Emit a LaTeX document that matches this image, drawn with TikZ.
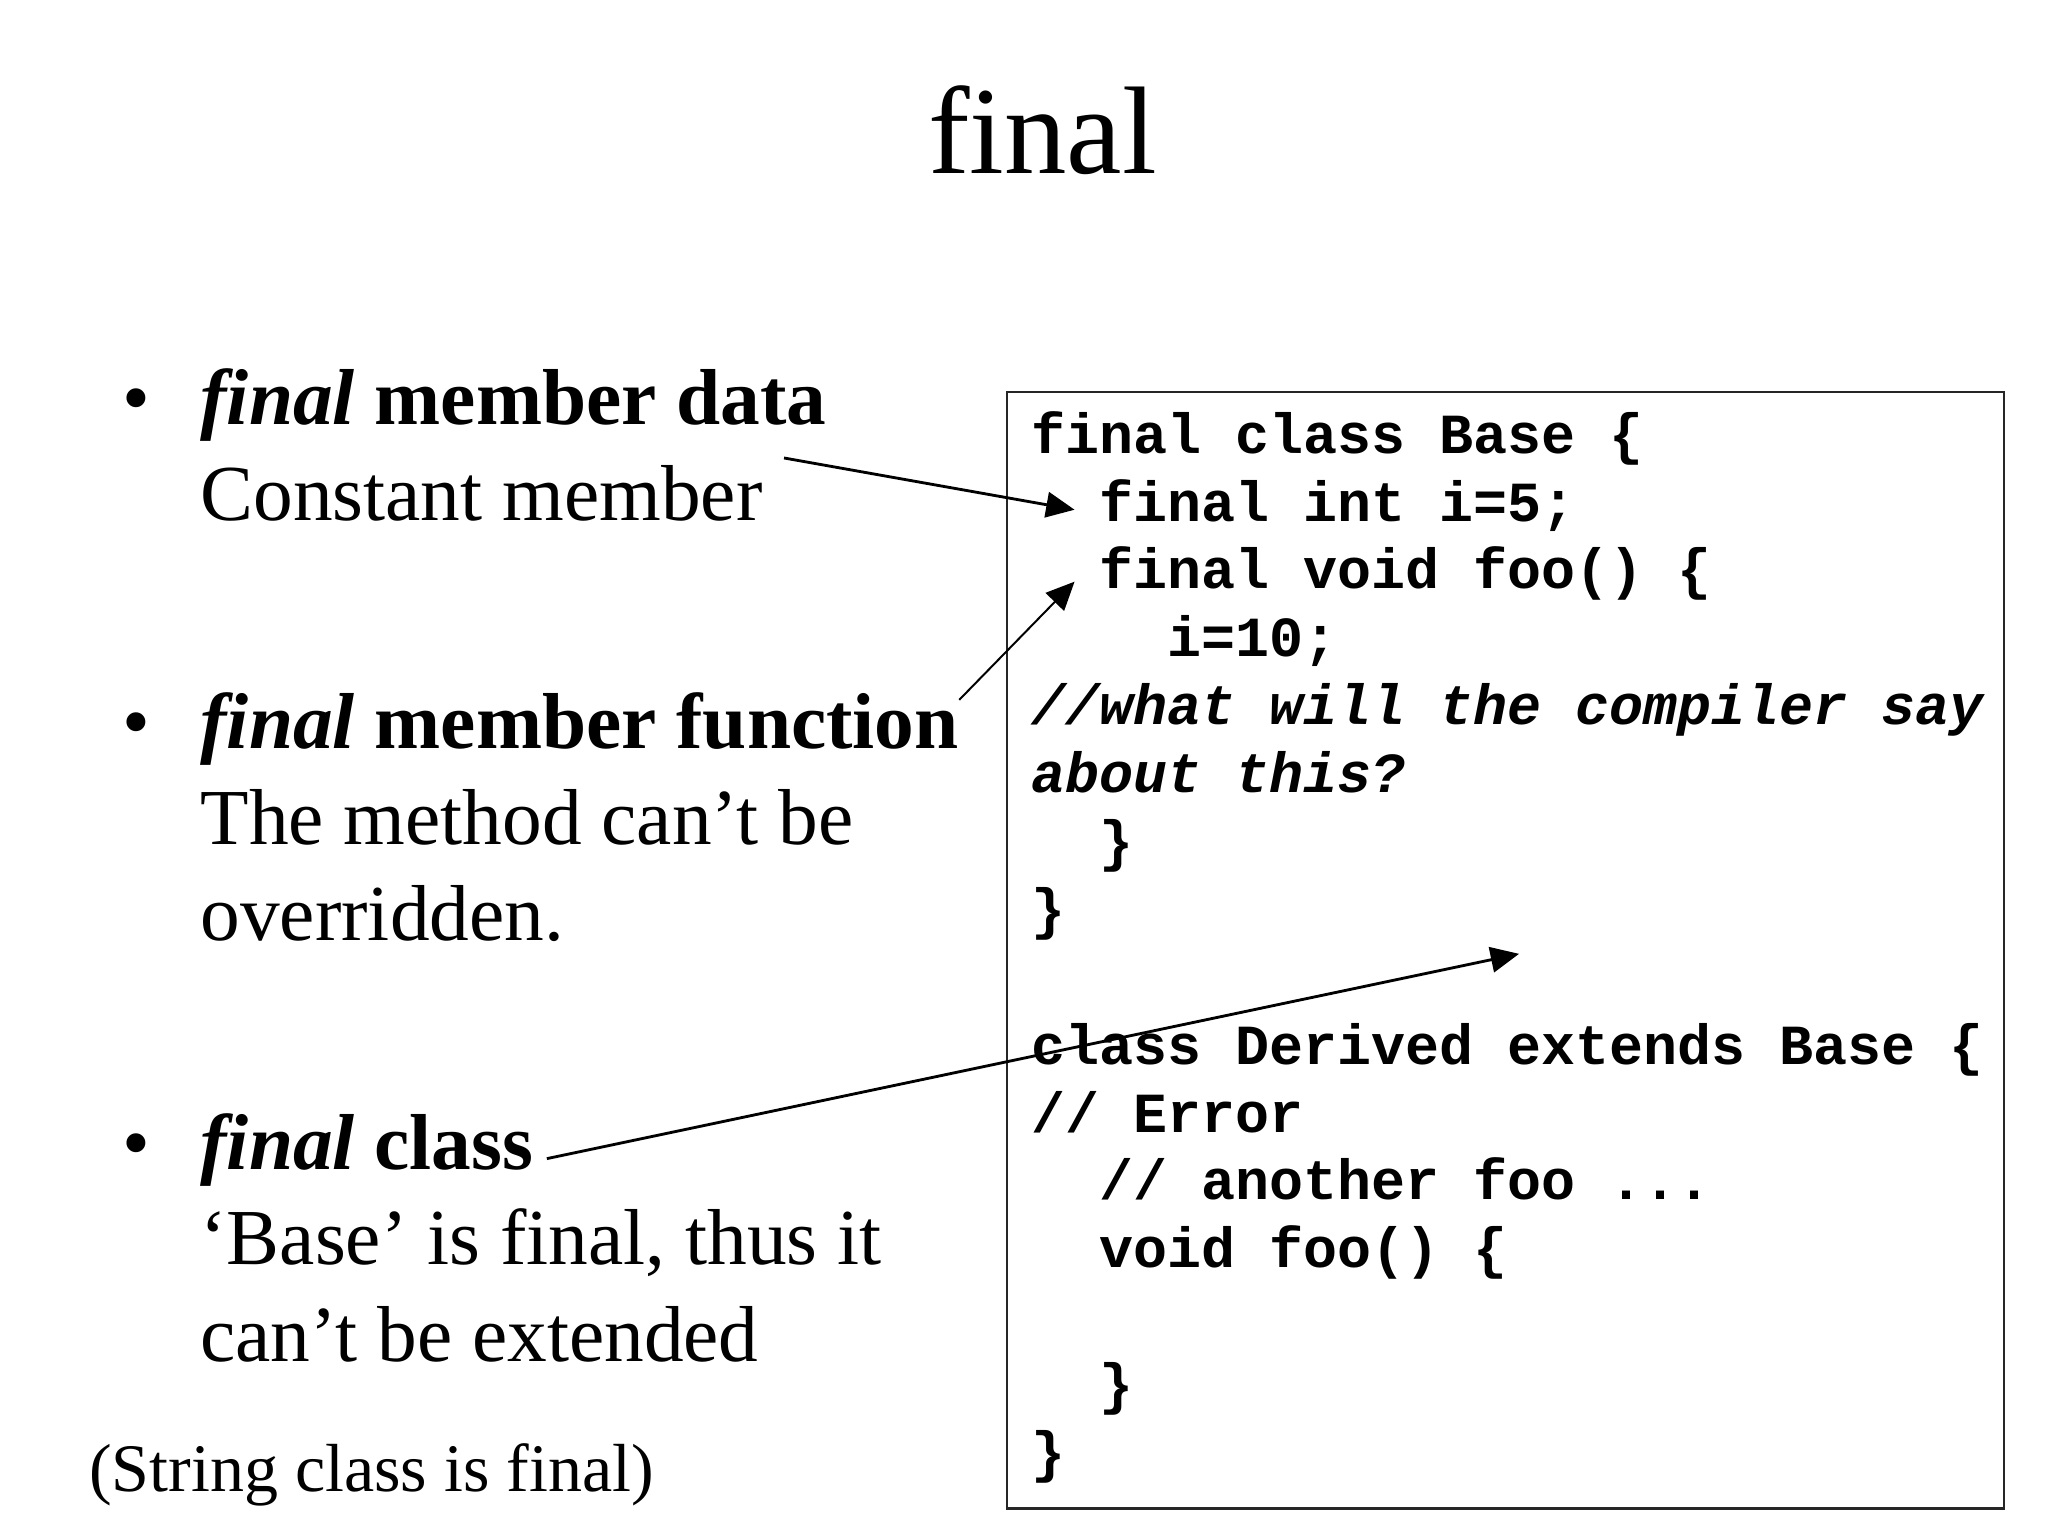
\documentclass[tikz,border=0pt]{standalone}
\usepackage{fontspec}
\setmainfont{Liberation Serif}
\setmonofont{Liberation Mono}
\usepackage{tikz}
\usetikzlibrary{calc,positioning,arrows.meta}

\newcommand{\titlesize}{\fontsize{44}{52}\selectfont}
\newcommand{\bodysize}{\fontsize{28}{33.6}\selectfont}
\newcommand{\notesize}{\fontsize{24}{28.8}\selectfont}
\newcommand{\codesize}{\fontsize{20}{24}\selectfont\ttfamily\bfseries}

\tikzset{
	txt/.style={anchor=base west,inner sep=0,font=\bodysize},
	codeln/.style={anchor=base west,inner sep=0,font=\codesize},
	pointer/.style={-{Triangle[length=10pt,width=9pt]},line width=1pt},
}

\begin{document}
\begin{tikzpicture}
		\useasboundingbox (0,0) rectangle (25.4,19.05);
		\node[anchor=base,inner sep=0,font=\titlesize] (title) at (12.93,16.90) {final};
		% left column
		\node[txt] (bul1) at (1.51,13.79) {•};
		\node[txt] (b1) at (2.48,13.79) {\textbf{\textit{final} member data}};
		\node[txt] (cdata) at (2.48,12.60) {Constant member};
		\node[txt] (bul2) at (1.51,9.77) {•};
		\node[txt] (b2) at (2.48,9.77) {\textbf{\textit{final} member function}};
		\node[txt] (meth1) at (2.48,8.57) {The method can’t be};
		\node[txt] (meth2) at (2.48,7.39) {overridden.};
		\node[txt] (bul3) at (1.51,4.55) {•};
		\node[txt] (b3) at (2.48,4.55) {\textbf{\textit{final} class}};
		\node[txt] (cls1) at (2.48,3.37) {‘Base’ is final, thus it};
		\node[txt] (cls2) at (2.48,2.17) {can’t be extended};
		\node[txt,font=\notesize] (note) at (1.10,0.55) {(String class is final)};
		% code box
		\draw[line width=0.8pt,black!85] (12.49,0.34) rectangle (24.85,14.19);
		\node[codeln] (c1) at (12.78,13.43) {final class Base \{};
		\node[codeln] (c2) at (13.627,12.588) {final int i=5;};
		\node[codeln] (c3) at (13.627,11.746) {final void foo() \{};
		\node[codeln] (c4) at (14.473,10.904) {i=10;};
		\node[codeln,font=\codesize\itshape] (c5) at (12.78,10.062) {//what will the compiler say};
		\node[codeln,font=\codesize\itshape] (c6) at (12.78,9.22) {about this?};
		\node[codeln] (c7) at (13.627,8.378) {\}};
		\node[codeln] (c8) at (12.78,7.536) {\}};
		\node[codeln] (c9) at (12.78,5.852) {class Derived extends Base \{};
		\node[codeln] (c10) at (12.78,5.01) {// Error};
		\node[codeln] (c11) at (13.627,4.168) {// another foo ...};
		\node[codeln] (c12) at (13.627,3.326) {void foo() \{};
		\node[codeln] (c13) at (13.627,1.642) {\}};
		\node[codeln] (c14) at (12.78,0.80) {\}};
		\coordinate (gap) at (18.84,7.22);
		% arrows
		\draw[pointer] ($(cdata.north east)+(0.26,0.08)$) -- ($(c2.base west)+(-0.3,0.14)$);
		\draw[pointer,line width=0.7pt] ([yshift=-0.1cm]b2.north east) -- ($(c3.base west)+(-0.3,0.09)$);
		\draw[pointer] ($(b3.base east)+(0.16,0.13)$) -- (gap);
	\end{tikzpicture}
\end{document}
